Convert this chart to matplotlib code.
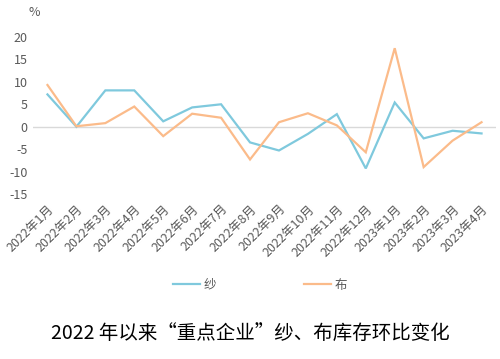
import matplotlib.pyplot as plt
from matplotlib.lines import Line2D

plt.rcParams['font.family'] = ['Noto Sans CJK SC', 'DejaVu Sans']

months = ['2022年1月', '2022年2月', '2022年3月', '2022年4月', '2022年5月', '2022年6月',
          '2022年7月', '2022年8月', '2022年9月', '2022年10月', '2022年11月', '2022年12月',
          '2023年1月', '2023年2月', '2023年3月', '2023年4月']
yarn = [7.2, 0.0, 8.1, 8.1, 1.2, 4.3, 5.0, -3.5, -5.3, -1.6, 2.8, -9.3, 5.4, -2.6, -0.9, -1.5]
cloth = [9.3, 0.1, 0.8, 4.5, -2.1, 2.9, 2.0, -7.3, 1.0, 3.0, 0.3, -5.7, 17.5, -9.0, -3.1, 1.0]
yticks = [-15, -10, -5, 0, 5, 10, 15, 20]

blue = '#7fc9dd'
orange = '#fbbb8a'
grey = '#595959'

fig = plt.figure(figsize=(5, 3.59), dpi=100)
ax = fig.add_axes([33 / 500, 1 - 194 / 359, 463 / 500, 157 / 359])

x = range(len(months))
ax.plot(x, yarn, color=blue, lw=1.6, solid_joinstyle='miter')
ax.plot(x, cloth, color=orange, lw=1.6, solid_joinstyle='miter')
ax.axhline(0, color='#d9d9d9', lw=1, zorder=0)

ax.set_xlim(-0.5, len(months) - 0.5)
ax.set_ylim(-15, 20)
ax.set_yticks(yticks)
ax.set_yticklabels([str(v) for v in yticks], fontsize=9, color=grey)
ax.set_xticks(list(x))
ax.set_xticklabels(months, rotation=45, ha='right', rotation_mode='anchor',
                   fontsize=9, color=grey)
ax.tick_params(length=0, pad=4)
ax.tick_params(axis='x', pad=6)
for s in ax.spines.values():
    s.set_visible(False)

fig.text(34 / 500, 1 - 12 / 359, '%', fontsize=9, color=grey, ha='center', va='center')

handles = [Line2D([], [], color=blue, lw=1.6), Line2D([], [], color=orange, lw=1.6)]
fig.legend(handles, ['纱', '布'], loc='center', bbox_to_anchor=(0.52, 1 - 285 / 359),
           ncol=2, frameon=False, fontsize=9, labelcolor=grey,
           handlelength=2.2, columnspacing=7, handletextpad=0.3)

fig.text(0.5, 1 - 333 / 359, '2022 年以来“重点企业”纱、布库存环比变化',
         fontsize=14, ha='center', va='center', color='black')

fig.savefig('out.png', dpi=100)
